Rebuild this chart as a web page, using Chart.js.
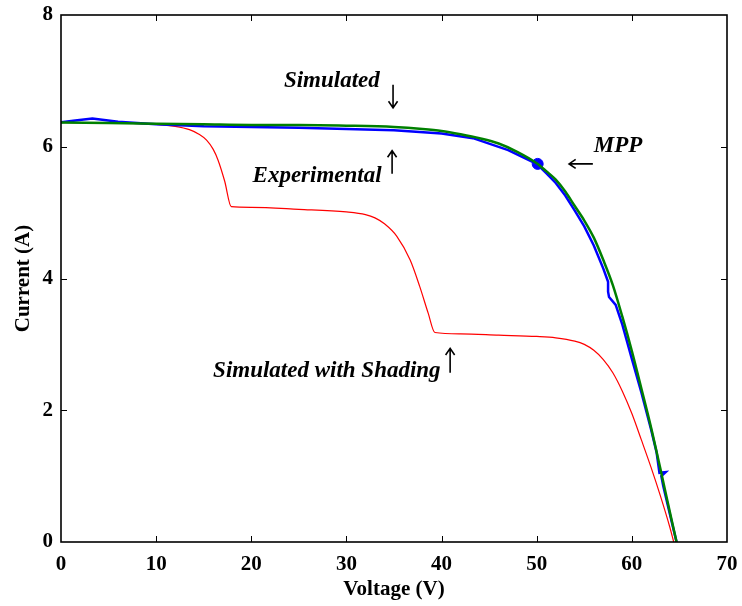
<!DOCTYPE html>
<html>
<head>
<meta charset="utf-8">
<script src="https://cdn.jsdelivr.net/npm/chart.js@4"></script>
<style>
  body { margin: 0; background: #fff; }
  #wrap { width: 742px; height: 606px; }
</style>
</head>
<body>
<div id="wrap"><canvas id="ivChart"></canvas></div>
<script>
// I-V curves
const simVoltage = [0, 5, 10, 15, 20, 25, 30, 35, 38, 40, 42, 44, 46, 48, 50, 51, 52, 53, 54, 55, 56, 57, 58, 59, 60, 61, 62, 63, 64, 64.7];
const simCurrent = [6.37, 6.36, 6.35, 6.34, 6.33, 6.33, 6.32, 6.30, 6.27, 6.24, 6.19, 6.13, 6.05, 5.92, 5.75, 5.63, 5.50, 5.32, 5.10, 4.88, 4.62, 4.28, 3.90, 3.42, 2.90, 2.33, 1.75, 1.11, 0.45, 0];

const expVoltage = [0, 1.5, 3.3, 6, 10, 15, 20, 25, 30, 35, 40, 43.3, 47, 50, 51, 52, 53, 54, 55, 56, 57, 57.5, 57.5, 57.6, 58.3, 59, 60, 61, 62, 62.6, 62.9, 63.55, 63.1, 63.3, 64, 64.7];
const expCurrent = [6.37, 6.40, 6.43, 6.38, 6.34, 6.31, 6.30, 6.29, 6.27, 6.25, 6.20, 6.13, 5.95, 5.74, 5.60, 5.45, 5.26, 5.03, 4.79, 4.50, 4.15, 3.95, 3.80, 3.72, 3.60, 3.30, 2.78, 2.27, 1.72, 1.36, 1.05, 1.06, 1.00, 0.85, 0.42, 0];

const shadeVoltage = [0, 5, 10, 12, 13.5, 14.5, 15.3, 16, 16.5, 17.2, 17.9, 20, 25, 30, 32, 33, 34, 35.3, 36.7, 37.7, 38.6, 39.3, 42, 46, 50, 52, 54, 55, 56, 57, 58, 59, 60, 61, 62, 63, 64, 64.4];
const shadeCurrent = [6.37, 6.36, 6.34, 6.31, 6.26, 6.19, 6.10, 5.96, 5.80, 5.48, 5.09, 5.08, 5.05, 5.01, 4.97, 4.92, 4.83, 4.64, 4.28, 3.88, 3.47, 3.18, 3.16, 3.14, 3.12, 3.10, 3.05, 3.00, 2.91, 2.77, 2.57, 2.29, 1.95, 1.55, 1.14, 0.70, 0.22, 0];

const mppVoltage = [50.1];
const mppCurrent = [5.74];

const xTicks = [0, 10, 20, 30, 40, 50, 60, 70];
const yTicks = [0, 2, 4, 6, 8];

const serif = "'Liberation Serif', 'Times New Roman', serif";

function toPoints(xs, ys) {
  return xs.map((x, i) => ({ x: x, y: ys[i] }));
}

// text labels with arrows (data coords)
const notes = [
  { text: 'Simulated', x: 33.5, y: 6.90, align: 'right', arrow: [34.9, 6.94, 34.9, 6.59] },
  { text: 'Experimental', x: 33.7, y: 5.47, align: 'right', arrow: [34.8, 5.59, 34.8, 5.94] },
  { text: 'MPP', x: 56.0, y: 5.92, align: 'left', arrow: [55.9, 5.74, 53.4, 5.74] },
  { text: 'Simulated with Shading', x: 39.9, y: 2.50, align: 'right', arrow: [40.9, 2.57, 40.9, 2.94] }
];

function drawArrow(ctx, x1, y1, x2, y2) {
  const ang = Math.atan2(y2 - y1, x2 - x1);
  const head = 8;
  ctx.beginPath();
  ctx.moveTo(x1, y1);
  ctx.lineTo(x2, y2);
  ctx.moveTo(x2 - head * Math.cos(ang - 0.6), y2 - head * Math.sin(ang - 0.6));
  ctx.lineTo(x2, y2);
  ctx.lineTo(x2 - head * Math.cos(ang + 0.6), y2 - head * Math.sin(ang + 0.6));
  ctx.stroke();
}

const framePlugin = {
  id: 'framePlugin',
  afterDraw(chart) {
    const ctx = chart.ctx;
    const a = chart.chartArea;
    const xs = chart.scales.x, ys = chart.scales.y;
    ctx.save();
    ctx.strokeStyle = '#000';
    ctx.lineWidth = 1;
    // inward ticks
    xTicks.slice(1, -1).forEach(v => {
      const px = Math.round(xs.getPixelForValue(v)) + 0.5;
      ctx.beginPath();
      ctx.moveTo(px, a.bottom); ctx.lineTo(px, a.bottom - 6);
      ctx.moveTo(px, a.top); ctx.lineTo(px, a.top + 6);
      ctx.stroke();
    });
    yTicks.slice(1, -1).forEach(v => {
      const py = Math.round(ys.getPixelForValue(v)) + 0.5;
      ctx.beginPath();
      ctx.moveTo(a.left, py); ctx.lineTo(a.left + 6, py);
      ctx.moveTo(a.right, py); ctx.lineTo(a.right - 6, py);
      ctx.stroke();
    });
    ctx.lineWidth = 1.6;
    ctx.strokeRect(a.left, a.top, a.right - a.left, a.bottom - a.top);

    // annotations
    ctx.fillStyle = '#000';
    ctx.font = "italic bold 23px " + serif;
    ctx.textBaseline = 'alphabetic';
    ctx.lineWidth = 1.6;
    notes.forEach(n => {
      ctx.textAlign = n.align;
      ctx.fillText(n.text, xs.getPixelForValue(n.x), ys.getPixelForValue(n.y));
      const [ax1, ay1, ax2, ay2] = n.arrow;
      drawArrow(ctx, xs.getPixelForValue(ax1), ys.getPixelForValue(ay1),
                xs.getPixelForValue(ax2), ys.getPixelForValue(ay2));
    });
    ctx.restore();
  }
};

const ctx = document.getElementById('ivChart').getContext('2d');
new Chart(ctx, {
  type: 'scatter',
  data: {
    datasets: [
      {
        label: 'Simulated',
        data: toPoints(simVoltage, simCurrent),
        showLine: true,
        borderColor: '#008000',
        borderWidth: 2.5,
        pointRadius: 0,
        cubicInterpolationMode: 'monotone',
        order: 0
      },
      {
        label: 'MPP',
        data: toPoints(mppVoltage, mppCurrent),
        showLine: false,
        pointRadius: 5.5,
        pointBackgroundColor: '#0000ff',
        pointBorderColor: '#0000ff',
        order: 1
      },
      {
        label: 'Experimental',
        data: toPoints(expVoltage, expCurrent),
        showLine: true,
        borderColor: '#0000ff',
        borderWidth: 2.5,
        pointRadius: 0,
        tension: 0,
        order: 2
      },
      {
        label: 'Simulated with Shading',
        data: toPoints(shadeVoltage, shadeCurrent),
        showLine: true,
        borderColor: '#ff0000',
        borderWidth: 1.2,
        pointRadius: 0,
        cubicInterpolationMode: 'monotone',
        order: 3
      }
    ]
  },
  options: {
    responsive: true,
    maintainAspectRatio: false,
    animation: false,
    layout: { padding: { top: 15, right: 15, left: 0, bottom: 0 } },
    plugins: {
      legend: { display: false },
      tooltip: { enabled: false }
    },
    scales: {
      x: {
        type: 'linear',
        min: 0, max: 70,
        afterBuildTicks: s => { s.ticks = xTicks.map(v => ({ value: v })); },
        afterFit: s => { s.height = 64; s.paddingLeft = 0; s.paddingRight = 0; },
        grid: { display: false, drawTicks: false },
        border: { display: false },
        ticks: { color: '#000', padding: 10, font: { family: serif, size: 21, weight: 'bold' } },
        title: { display: true, text: 'Voltage (V)', color: '#000', padding: { top: 0, bottom: 4 },
                 font: { family: serif, size: 21, weight: 'bold' } }
      },
      y: {
        type: 'linear',
        min: 0, max: 8,
        afterBuildTicks: s => { s.ticks = yTicks.map(v => ({ value: v })); },
        afterFit: s => { s.width = 61; s.paddingTop = 0; s.paddingBottom = 0; },
        grid: { display: false, drawTicks: false },
        border: { display: false },
        ticks: { color: '#000', padding: 8, font: { family: serif, size: 21, weight: 'bold' } },
        title: { display: true, text: 'Current (A)', color: '#000', padding: { top: 11, bottom: 0 },
                 font: { family: serif, size: 21, weight: 'bold' } }
      }
    }
  },
  plugins: [framePlugin]
});
</script>
</body>
</html>
